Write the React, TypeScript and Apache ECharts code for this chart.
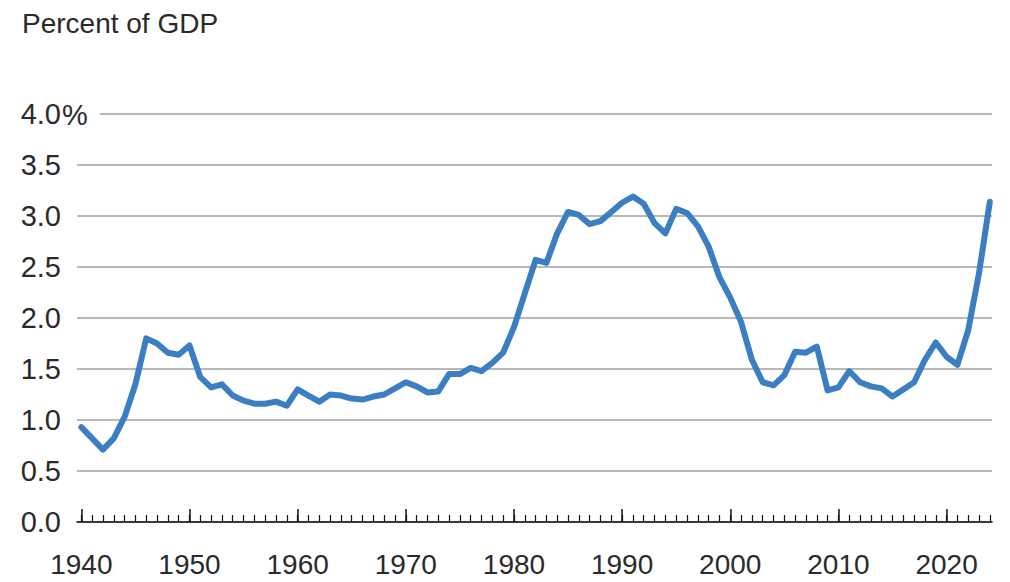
import React, { useEffect, useRef } from "react";
import * as echarts from "echarts";

const startYear = 1940;
const endYear = 2024;
const values: number[] = [
  0.93, 0.82, 0.71, 0.82, 1.03, 1.35, 1.8, 1.75, 1.66, 1.64,
  1.73, 1.42, 1.32, 1.35, 1.24, 1.19, 1.16, 1.16, 1.18, 1.14,
  1.3, 1.24, 1.18, 1.25, 1.24, 1.21, 1.2, 1.23, 1.25, 1.31,
  1.37, 1.33, 1.27, 1.28, 1.45, 1.45, 1.51, 1.48, 1.56, 1.66,
  1.91, 2.24, 2.57, 2.54, 2.83, 3.04, 3.01, 2.92, 2.95, 3.04,
  3.13, 3.19, 3.12, 2.93, 2.83, 3.07, 3.03, 2.9, 2.7, 2.4,
  2.2, 1.96, 1.59, 1.37, 1.34, 1.44, 1.67, 1.66, 1.72, 1.29,
  1.32, 1.48, 1.37, 1.33, 1.31, 1.23, 1.3, 1.37, 1.59, 1.76,
  1.62, 1.54, 1.88, 2.44, 3.14,
];
const majorYears: number[] = [1940, 1950, 1960, 1970, 1980, 1990, 2000, 2010, 2020];
const titleText = "Percent of GDP";

const FONT = "'Liberation Sans', Arial, sans-serif";
const TEXT_COLOR = "#2a2a2a";

export default function App() {
  const ref = useRef<HTMLDivElement>(null);
  useEffect(() => {
    if (!ref.current) return;
    const chart = echarts.init(ref.current, null, { renderer: "svg" });
    const allYears: number[] = [];
    for (let y = startYear; y <= endYear; y++) allYears.push(y);
    const data = values.map((v, i) => [startYear + i, v]);
    chart.setOption({
      animation: false,
      backgroundColor: "#ffffff",
      title: {
        text: titleText,
        left: 17,
        top: 4,
        textStyle: { fontSize: 28, fontWeight: "normal", fontFamily: FONT, color: TEXT_COLOR },
      },
      grid: { left: 77, right: 18, top: 114, bottom: 60, containLabel: false },
      xAxis: [
        {
          type: "value",
          min: 1939.6,
          max: 2024.2,
          axisLine: { show: true, lineStyle: { color: "#111", width: 1.6 } },
          axisTick: { show: true, inside: true, length: 13, customValues: majorYears, lineStyle: { color: "#111", width: 1.5 } },
          axisLabel: {
            customValues: majorYears,
            formatter: (v: number) => String(v),
            fontSize: 28,
            fontFamily: FONT,
            color: TEXT_COLOR,
            margin: 28,
          },
          splitLine: { show: false },
        },
        {
          type: "value",
          min: 1939.6,
          max: 2024.2,
          position: "bottom",
          axisLine: { show: false },
          axisTick: { show: true, inside: true, length: 7, customValues: allYears, lineStyle: { color: "#111", width: 1.2 } },
          axisLabel: { show: false },
          splitLine: { show: false },
        },
      ],
      yAxis: {
        type: "value",
        min: 0,
        max: 4,
        interval: 0.5,
        axisLine: { show: false },
        axisTick: { show: false },
        axisLabel: {
          formatter: (v: number) => v.toFixed(1),
          fontSize: 29,
          fontFamily: FONT,
          color: TEXT_COLOR,
          margin: 16,
        },
        splitLine: { show: true, lineStyle: { color: "#a0a0a0", width: 1.5 } },
      },
      graphic: [
        { type: "rect", left: 76, top: 110, shape: { width: 24, height: 8 }, style: { fill: "#ffffff" }, z: 50 },
        {
          type: "text",
          x: 62,
          y: 115,
          z: 51,
          style: { text: "%", fontSize: 29, fontFamily: FONT, fill: TEXT_COLOR, verticalAlign: "middle", align: "left" },
        },
      ],
      series: [
        {
          type: "line",
          data,
          xAxisIndex: 0,
          showSymbol: false,
          symbol: "none",
          lineStyle: { color: "#3b7fc2", width: 6, cap: "round", join: "round" },
          z: 10,
        },
      ],
    });
    return () => chart.dispose();
  }, []);
  return <div ref={ref} style={{ position: "fixed", left: 0, top: 0, width: 1010, height: 582 }} />;
}
